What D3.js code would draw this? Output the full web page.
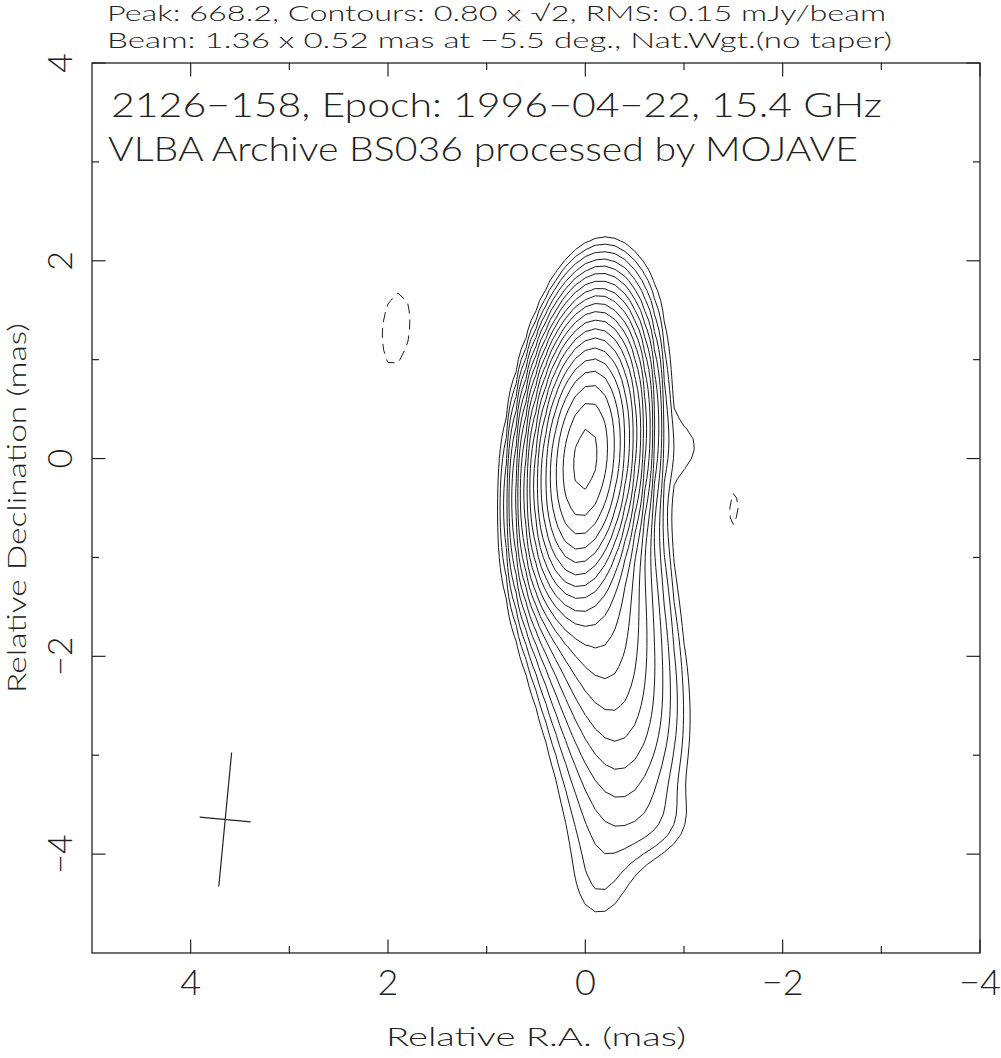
<!DOCTYPE html>
<html><head><meta charset="utf-8">
<script src="https://cdn.jsdelivr.net/npm/d3@7"></script>
<style>
html,body{margin:0;padding:0;background:#fff;}
svg{display:block;}
text{font-family:"Lato","Roboto","DejaVu Sans",sans-serif;font-weight:300;fill:#222;}
</style></head><body>
<svg id="chart" width="1001" height="1058"></svg>
<script>
// ---------------- data ----------------
const titleLines = [
  "Peak: 668.2, Contours: 0.80 x \u221A2, RMS: 0.15 mJy/beam",
  "Beam: 1.36 x 0.52 mas at \u22125.5 deg., Nat.Wgt.(no taper)"
];
const labelLines = [
  "2126\u2212158, Epoch: 1996\u221204\u221222, 15.4 GHz",
  "VLBA Archive BS036 processed by MOJAVE"
];
const xTitle = "Relative R.A. (mas)";
const yTitle = "Relative Declination (mas)";
const xDomain = [5, -4];
const yDomain = [4, -5];
const xMajorTicks = [4, 2, 0, -2, -4];
const xMinorTicks = [3, 1, -1, -3];
const yMajorTicks = [4, 2, 0, -2, -4];
const yMinorTicks = [3, 1, -1, -3];
const xTickLabels = ["4", "2", "0", "\u22122", "\u22124"];
const yTickLabels = ["4", "2", "0", "\u22122", "\u22124"];

// contour levels: 0.80 mJy/beam x sqrt(2)^k
const contourBase = 0.80;
const contourCount = 20;
const negativeLevel = -0.80;

// beam (restoring beam drawn as a cross)
const beamMaj = 1.36, beamMin = 0.52, beamPA = -5.5;
const beamCenter = [3.65, -3.65];

const compRA   = [ 0.00,  0.00, -0.20, -1.05, -0.05, -0.15, -0.30, -0.40, -0.38, -0.15, -0.78, -0.10,  1.92, -1.50];
const compDec  = [ 0.00, -0.20,  1.40,  0.10, -1.00, -1.60, -2.20, -2.80, -3.40, -4.00, -3.70, -4.40,  1.31, -0.50];
const compPeak = [662,   2.2,   1.5,  0.75,  15.5,   9.0,   4.6,   2.5,   0.7,  0.75,  0.55,   0.3, -0.98, -0.85];
const compMaj  = [1.36,  2.2,   1.2,   0.7,   1.4,   1.4,   1.4,   1.4,   1.4,   1.4,   0.6,   0.7,  1.36,  1.36];
const compMin  = [0.52,  1.1,   0.8,   0.4,  0.68,  0.72,  0.77,  0.85,  0.93,  0.65,   0.7,   0.5,  0.52,  0.52];
const compPA   = [-5.5, -5.5,  -5.5,   0,     0,     0,     0,     0,     0,     0,     0,     0,   -5.5,  -5.5];

const gridStep = 0.1;

// ---------------- layout ----------------
const svg = d3.select("#chart");
const L = 92, R = 980, T = 63, B = 953;
const x = d3.scaleLinear().domain(xDomain).range([L, R]);
const y = d3.scaleLinear().domain(yDomain).range([T, B]);
const ink = "#222";

// ---------------- field ----------------
const nx = Math.round((xDomain[0] - xDomain[1]) / gridStep) + 1;
const ny = Math.round((yDomain[0] - yDomain[1]) / gridStep) + 1;
const field = new Float64Array(nx * ny);
const k4 = 4 * Math.LN2;
for (let j = 0; j < ny; j++) {
  const dec = yDomain[0] - j * gridStep;
  for (let i = 0; i < nx; i++) {
    const ra = xDomain[0] - i * gridStep;
    let v = 0;
    for (let c = 0; c < compRA.length; c++) {
      const t = compPA[c] * Math.PI / 180;
      const dx = ra - compRA[c], dy = dec - compDec[c];
      const a = dx * Math.sin(t) + dy * Math.cos(t);
      const b = dx * Math.cos(t) - dy * Math.sin(t);
      v += compPeak[c] * Math.exp(-k4 * (a * a / (compMaj[c] * compMaj[c]) + b * b / (compMin[c] * compMin[c])));
    }
    field[i + j * nx] = v;
  }
}
const levels = d3.range(contourCount).map(k => contourBase * Math.pow(Math.SQRT2, k));
const proj = d3.geoTransform({
  point: function(cx, cy) {
    this.stream.point(x(xDomain[0] - (cx - 0.5) * gridStep), y(yDomain[0] - (cy - 0.5) * gridStep));
  }
});
const path = d3.geoPath(proj);

svg.append("defs").append("clipPath").attr("id", "plotclip")
  .append("rect").attr("x", L).attr("y", T).attr("width", R - L).attr("height", B - T);

const gC = svg.append("g").attr("clip-path", "url(#plotclip)");
const pos = d3.contours().size([nx, ny]).thresholds(levels)(Array.from(field));
gC.selectAll("path.pos").data(pos).join("path")
  .attr("class", "pos").attr("d", path)
  .attr("fill", "none").attr("stroke", "#1a1a1a").attr("stroke-width", 1);

const negField = Array.from(field, v => -v);
const neg = d3.contours().size([nx, ny]).thresholds([-negativeLevel])(negField);
gC.selectAll("path.neg").data(neg).join("path")
  .attr("class", "neg").attr("d", path)
  .attr("fill", "none").attr("stroke", "#1a1a1a").attr("stroke-width", 1)
  .attr("stroke-dasharray", "10,6");

// ---------------- beam cross ----------------
const bt = beamPA * Math.PI / 180;
const beamLines = [
  [[beamCenter[0] - beamMaj / 2 * Math.sin(bt), beamCenter[1] - beamMaj / 2 * Math.cos(bt)],
   [beamCenter[0] + beamMaj / 2 * Math.sin(bt), beamCenter[1] + beamMaj / 2 * Math.cos(bt)]],
  [[beamCenter[0] - beamMin / 2 * Math.cos(bt), beamCenter[1] + beamMin / 2 * Math.sin(bt)],
   [beamCenter[0] + beamMin / 2 * Math.cos(bt), beamCenter[1] - beamMin / 2 * Math.sin(bt)]]
];
svg.selectAll("line.beam").data(beamLines).join("line").attr("class", "beam")
  .attr("x1", d => x(d[0][0])).attr("y1", d => y(d[0][1]))
  .attr("x2", d => x(d[1][0])).attr("y2", d => y(d[1][1]))
  .attr("stroke", ink).attr("stroke-width", 1.2);

// ---------------- frame & ticks ----------------
svg.append("rect").attr("x", L).attr("y", T).attr("width", R - L).attr("height", B - T)
  .attr("fill", "none").attr("stroke", ink).attr("stroke-width", 1.3);
const major = 13.5, minor = 7;
const tk = svg.append("g").attr("stroke", ink).attr("stroke-width", 1.2);
function xt(vals, len) {
  vals.forEach(v => {
    tk.append("line").attr("x1", x(v)).attr("x2", x(v)).attr("y1", B).attr("y2", B - len);
    tk.append("line").attr("x1", x(v)).attr("x2", x(v)).attr("y1", T).attr("y2", T + len);
  });
}
function yt(vals, len) {
  vals.forEach(v => {
    tk.append("line").attr("y1", y(v)).attr("y2", y(v)).attr("x1", L).attr("x2", L + len);
    tk.append("line").attr("y1", y(v)).attr("y2", y(v)).attr("x1", R).attr("x2", R - len);
  });
}
xt(xMajorTicks, major); xt(xMinorTicks, minor);
yt(yMajorTicks, major); yt(yMinorTicks, minor);

svg.selectAll("text.xtl").data(xMajorTicks).join("text").attr("class", "xtl")
  .attr("x", d => x(d)).attr("y", 995).attr("text-anchor", "middle")
  .attr("font-size", 36).text((d, i) => xTickLabels[i]);
svg.selectAll("text.ytl").data(yMajorTicks).join("text").attr("class", "ytl")
  .attr("transform", d => `translate(72,${y(d)}) rotate(-90)`).attr("text-anchor", "middle")
  .attr("font-size", 34).text((d, i) => yTickLabels[i]);

// ---------------- titles ----------------
const tl = [[107, 20.5, 21.5, 779], [107, 48, 21.5, 785]];
titleLines.forEach((s, i) => svg.append("text").attr("x", tl[i][0]).attr("y", tl[i][1])
  .attr("font-size", tl[i][2]).attr("textLength", tl[i][3]).attr("lengthAdjust", "spacingAndGlyphs").text(s));
const ll = [[111, 117, 33, 771], [108, 161, 33, 750]];
labelLines.forEach((s, i) => svg.append("text").attr("x", ll[i][0]).attr("y", ll[i][1])
  .attr("font-size", ll[i][2]).attr("textLength", ll[i][3]).attr("lengthAdjust", "spacingAndGlyphs").text(s));

svg.append("text").attr("x", (L + R) / 2 - 150).attr("y", 1046).attr("font-size", 26)
  .attr("textLength", 300).attr("lengthAdjust", "spacingAndGlyphs").text(xTitle);
svg.append("text").attr("transform", `translate(26,${(T + B) / 2 + 185}) rotate(-90)`)
  .attr("font-size", 26).attr("textLength", 370).attr("lengthAdjust", "spacingAndGlyphs").text(yTitle);
</script>
</body></html>
